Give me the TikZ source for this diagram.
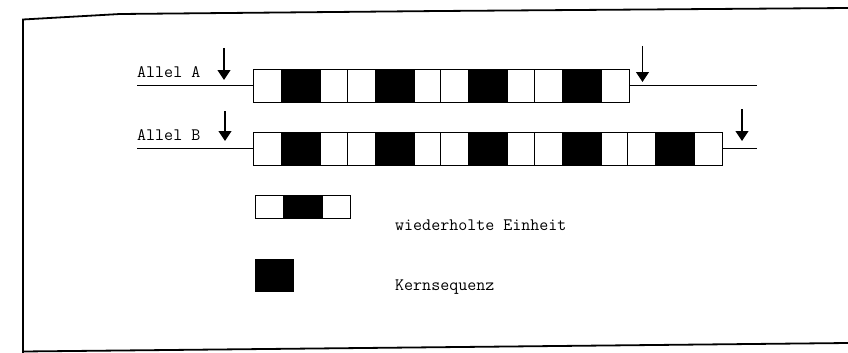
\documentclass[tikz,border=0pt]{standalone}
\usetikzlibrary{arrows.meta,positioning}

\tikzset{
  cell/.style={draw, line width=0.9pt, inner sep=0pt, minimum height=33pt, anchor=west},
  hell/.style={cell, fill=white, minimum width=28pt},
  kern/.style={cell, fill=black, minimum width=37.5pt},
  strang/.style={line width=0.9pt},
  pfeil/.style={line width=1.1pt, -{Triangle[length=10pt,width=13pt]}},
  beschr/.style={anchor=west, inner sep=0pt, font=\ttfamily\fontsize{17.5}{19}\selectfont},
}

\begin{document}
\begin{tikzpicture}[x=1pt, y=-1pt]
  \useasboundingbox (0,0) rectangle (848,353);
  % Rahmen
  \draw[line width=1.8pt] (23,353) -- (23,19.5) -- (120,14) -- (440,11) -- (848,8);
  \draw[line width=1.8pt] (23,351.5) -- (848,343);

  % Allel A -- 4 Einheiten
  \foreach \k in {0,...,3} {
    \node[hell] (A\k l) at (253+93.5*\k, 85.5) {};
    \node[kern] (A\k k) at (A\k l.east) {};
    \node[hell] (A\k r) at (A\k k.east) {};
  }
  % Allel B -- 5 Einheiten
  \foreach \k in {0,...,4} {
    \node[hell] (B\k l) at (253+93.5*\k, 148.5) {};
    \node[kern] (B\k k) at (B\k l.east) {};
    \node[hell] (B\k r) at (B\k k.east) {};
  }

  % flankierende DNA
  \coordinate (Alinks) at (137,85.5);
  \coordinate (Arechts) at (757,85.5);
  \coordinate (Blinks) at (137,148.5);
  \coordinate (Brechts) at (757,148.5);
  \draw[strang] (Alinks) -- (A0l.west);
  \draw[strang] (A3r.east) -- (Arechts);
  \draw[strang] (Blinks) -- (B0l.west);
  \draw[strang] (B4r.east) -- (Brechts);

  % Schnittstellen
  \coordinate (pA1) at (224,48);  \coordinate (qA1) at (224,80);
  \coordinate (pA2) at (642.5,46); \coordinate (qA2) at (642.5,82);
  \coordinate (pB1) at (225,111); \coordinate (qB1) at (225,141);
  \coordinate (pB2) at (742,109); \coordinate (qB2) at (742,141);
  \draw[pfeil] (pA1) -- (qA1);
  \draw[pfeil] (pA2) -- (qA2);
  \draw[pfeil] (pB1) -- (qB1);
  \draw[pfeil] (pB2) -- (qB2);

  \node[beschr] (labA) at (137,72.5) {Allel A};
  \node[beschr] (labB) at (137,135) {Allel B};

  % Legende
  \node[hell, minimum height=22.5pt] (Ll) at (255,207) {};
  \node[kern, minimum height=22.5pt] (Lk) at (Ll.east) {};
  \node[hell, minimum height=22.5pt] (Lr) at (Lk.east) {};
  \node[kern, minimum width=38pt, minimum height=32pt] (Kq) at (255,275) {};
  \node[beschr] (txtE) at (395,225) {wiederholte Einheit};
  \node[beschr] (txtK) at (395,287) {Kernsequenz};
\end{tikzpicture}
\end{document}
